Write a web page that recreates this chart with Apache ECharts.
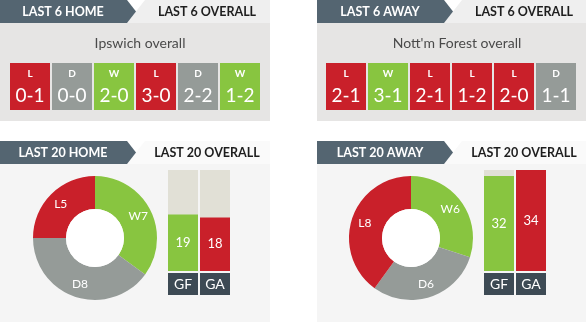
<!DOCTYPE html>
<html>
<head>
<meta charset="utf-8">
<script src="https://cdn.jsdelivr.net/npm/echarts@6/dist/echarts.min.js"></script>
<style>
  html, body { margin: 0; padding: 0; background: #fff; }
  #main { width: 586px; height: 322px; }
</style>
</head>
<body>
<div id="main"></div>
<script>
// last 6 results
var homeResults = ['L', 'D', 'W', 'L', 'D', 'W'];
var homeScores = ['0-1', '0-0', '2-0', '3-0', '2-2', '1-2'];
var awayResults = ['L', 'W', 'L', 'L', 'L', 'D'];
var awayScores = ['2-1', '3-1', '2-1', '1-2', '2-0', '1-1'];

// last 20 W/D/L
var formNames = ['W', 'D', 'L'];
var homeForm = [7, 8, 5];
var awayForm = [6, 6, 8];

// goals for / against
var goalCats = ['GF', 'GA'];
var homeGoals = [19, 18];
var awayGoals = [32, 34];
var goalMax = 34;

var RED = '#c9202a', GREEN = '#88c540', GREY = '#959b98';
var DARK = '#546571', LABELBOX = '#3d4a54';
var resultColor = { W: GREEN, D: GREY, L: RED };
var FONT = 'Lato';

var chart = echarts.init(document.getElementById('main'));

function header(x, y, tabText, otherText, tabBg, panelBg, panelH) {
    return [
        { type: 'rect', shape: { x: x, y: y + 23, width: 270, height: panelH }, style: { fill: panelBg }, silent: true },
        { type: 'polygon', shape: { points: [[x + 145, y], [x + 270, y], [x + 270, y + 23], [x + 127, y + 23], [x + 136, y + 11.5]] }, style: { fill: tabBg }, silent: true },
        { type: 'polygon', shape: { points: [[x, y], [x + 127, y], [x + 136, y + 11.5], [x + 127, y + 23], [x, y + 23]] }, style: { fill: DARK }, silent: true },
        { type: 'text', x: x + 63, y: y + 12, style: { text: tabText, fill: '#fff', font: 'bold 12.5px ' + FONT, textAlign: 'center', textVerticalAlign: 'middle' }, silent: true },
        { type: 'text', x: x + 207, y: y + 12, style: { text: otherText, fill: '#1e1e1e', font: 'bold 12.5px ' + FONT, textAlign: 'center', textVerticalAlign: 'middle' }, silent: true }
    ];
}

function boxSeries(idx, results, scores) {
    return {
        type: 'bar',
        xAxisIndex: idx, yAxisIndex: idx,
        barWidth: 40,
        silent: true,
        data: results.map(function (r) {
            return { value: 1, itemStyle: { color: resultColor[r] } };
        }),
        label: {
            show: true,
            position: 'insideTop',
            distance: 0,
            formatter: function (p) {
                return '{r|' + results[p.dataIndex] + '}\n{s|' + scores[p.dataIndex] + '}';
            },
            rich: {
                r: { fontFamily: FONT, fontSize: 10, fontWeight: 'bold', color: '#fff', lineHeight: 22, height: 22 },
                s: { fontFamily: FONT, fontSize: 19, color: '#fff', lineHeight: 22, height: 22 }
            }
        }
    };
}

function pieSeries(center, values) {
    return {
        type: 'pie',
        center: center,
        radius: [29, 62],
        startAngle: 90,
        silent: true,
        data: values.map(function (v, i) {
            return { name: formNames[i] + v, value: v, itemStyle: { color: [GREEN, GREY, RED][i] } };
        }),
        label: { show: true, position: 'inside', formatter: '{b}', color: '#fff', fontFamily: FONT, fontSize: 12 },
        labelLine: { show: false }
    };
}

function holeSeries(center) {
    return {
        type: 'pie', center: center, radius: [0, 29], silent: true,
        data: [{ value: 1, itemStyle: { color: '#fff' } }],
        label: { show: false }, labelLine: { show: false }
    };
}

function goalSeries(idx, goals) {
    return {
        type: 'bar',
        xAxisIndex: idx, yAxisIndex: idx,
        barWidth: 30,
        silent: true,
        showBackground: true,
        backgroundStyle: { color: '#e1e0d6' },
        data: goals.map(function (g, i) {
            return { value: g, itemStyle: { color: i === 0 ? GREEN : RED } };
        }),
        label: { show: true, position: 'inside', color: '#fff', fontFamily: FONT, fontSize: 13 }
    };
}

var grids = [
    { left: 9, top: 63, width: 252, height: 47 },
    { left: 325, top: 63, width: 252, height: 47 },
    { left: 167, top: 170, width: 64, height: 101 },
    { left: 483, top: 170, width: 64, height: 101 }
];

function catAxis(i, data, labels) {
    return {
        type: 'category', gridIndex: i, data: data,
        axisLine: { show: false }, axisTick: { show: false },
        axisLabel: labels ? {
            show: true, margin: 2, color: '#fff', fontFamily: FONT, fontSize: 14,
            backgroundColor: LABELBOX, width: 30, height: 22, lineHeight: 22, align: 'center'
        } : { show: false }
    };
}

function valAxis(i, max) {
    return { type: 'value', gridIndex: i, min: 0, max: max, show: false, splitLine: { show: false } };
}

var graphics = []
    .concat(header(0, 0, 'LAST 6 HOME', 'LAST 6 OVERALL', '#efefef', '#e6e5e4', 98))
    .concat(header(317, 0, 'LAST 6 AWAY', 'LAST 6 OVERALL', '#efefef', '#e6e5e4', 98))
    .concat(header(0, 141, 'LAST 20 HOME', 'LAST 20 OVERALL', '#fafafa', '#f5f5f5', 160))
    .concat(header(317, 141, 'LAST 20 AWAY', 'LAST 20 OVERALL', '#fafafa', '#f5f5f5', 160));

chart.setOption({
    backgroundColor: '#fff',
    animation: false,
    graphic: graphics,
    title: [
        { text: 'Ipswich overall', left: 135, top: 31, textAlign: 'center', textStyle: { fontFamily: FONT, fontSize: 14, fontWeight: 'normal', color: '#4a4a4a' } },
        { text: "Nott'm Forest overall", left: 452, top: 31, textAlign: 'center', textStyle: { fontFamily: FONT, fontSize: 14, fontWeight: 'normal', color: '#4a4a4a' } }
    ],
    grid: grids,
    xAxis: [
        catAxis(0, homeResults.map(function (r, i) { return i; }), false),
        catAxis(1, awayResults.map(function (r, i) { return i; }), false),
        catAxis(2, goalCats, true),
        catAxis(3, goalCats, true)
    ],
    yAxis: [valAxis(0, 1), valAxis(1, 1), valAxis(2, goalMax), valAxis(3, goalMax)],
    series: [
        boxSeries(0, homeResults, homeScores),
        boxSeries(1, awayResults, awayScores),
        pieSeries([95, 238], homeForm),
        holeSeries([95, 238]),
        pieSeries([411, 238], awayForm),
        holeSeries([411, 238]),
        goalSeries(2, homeGoals),
        goalSeries(3, awayGoals)
    ]
});
</script>
</body>
</html>
